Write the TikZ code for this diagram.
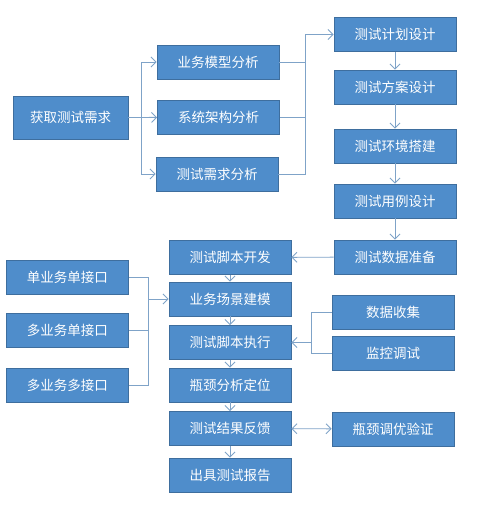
\documentclass[tikz,border=0pt]{standalone}
\usepackage{fontspec}
\setmainfont{Noto Sans CJK SC}
\usetikzlibrary{arrows.meta}
\definecolor{boxfill}{HTML}{4F8DCB}
\definecolor{boxline}{HTML}{3E6E9E}
\definecolor{linkcol}{HTML}{7FA3C8}

\begin{document}
\begin{tikzpicture}[
x=1pt, y=-1pt,
stepbox/.style={rectangle, draw=boxline, fill=boxfill, thick, text=white, inner sep=0pt,
                minimum width=122pt, minimum height=34pt, font=\fontsize{13.5}{15}\selectfont},
link/.style={draw=linkcol, line width=0.9pt, -{Straight Barb[length=5pt,width=10pt]}},
plain/.style={draw=linkcol, line width=0.9pt},
]
\useasboundingbox (0,0) rectangle (501,506);

% demand analysis
\node[stepbox, minimum width=115pt, minimum height=43pt] (req) at (70.5,117.5) {获取测试需求};
\node[stepbox] (bizmodel) at (218,62) {业务模型分析};
\node[stepbox] (sysarch) at (218.5,117) {系统架构分析};
\node[stepbox] (reqana) at (217,174) {测试需求分析};

% preparation column
\node[stepbox] (plan) at (395,34.5) {测试计划设计};
\node[stepbox] (scheme) at (395,87) {测试方案设计};
\node[stepbox] (env) at (395,146) {测试环境搭建};
\node[stepbox] (case) at (395,201) {测试用例设计};
\node[stepbox] (data) at (395,257) {测试数据准备};

% interface types
\node[stepbox] (single) at (67.5,277) {单业务单接口};
\node[stepbox] (multi) at (67.5,330.5) {多业务单接口};
\node[stepbox] (multimulti) at (67.5,385) {多业务多接口};

% execution column
\node[stepbox] (script) at (230,257.5) {测试脚本开发};
\node[stepbox] (scene) at (230,299) {业务场景建模};
\node[stepbox] (run) at (230,342.5) {测试脚本执行};
\node[stepbox] (locate) at (230,385) {瓶颈分析定位};
\node[stepbox] (feedback) at (230,428.5) {测试结果反馈};
\node[stepbox] (report) at (230,475) {出具测试报告};

% monitoring and tuning
\node[stepbox] (collect) at (393,312) {数据收集};
\node[stepbox] (monitor) at (393,353) {监控调试};
\node[stepbox] (tune) at (393,429) {瓶颈调优验证};

\coordinate (fork1) at (141,117.5);
\coordinate (fork2) at (305,117);
\coordinate (fork3) at (148,299);
\coordinate (fork4) at (311,342.5);

\draw[plain] (req) -- (fork1);
\draw[link] (fork1) |- (bizmodel);
\draw[link] (fork1) -- (sysarch);
\draw[link] (fork1) |- (reqana);

\draw[plain] (bizmodel) -| (fork2);
\draw[plain] (sysarch) -- (fork2);
\draw[plain] (reqana) -| (fork2);
\draw[link] (fork2) |- (plan);

\draw[link] (plan) -- (scheme);
\draw[link] (scheme) -- (env);
\draw[link] (env) -- (case);
\draw[link] (case) -- (data);
\draw[link] (data) -- (script);

\draw[plain] (single) -| (fork3);
\draw[plain] (multi) -| (fork3);
\draw[plain] (multimulti) -| (fork3);
\draw[link] (fork3) -- (scene);

\draw[link] (script) -- (scene);
\draw[link] (scene) -- (run);
\draw[link] (run) -- (locate);
\draw[link] (locate) -- (feedback);
\draw[link] (feedback) -- (report);

\draw[plain] (collect) -| (fork4);
\draw[plain] (monitor) -| (fork4);
\draw[link] (fork4) -- (run);

\draw[link, {Straight Barb[length=5pt,width=10pt]}-{Straight Barb[length=5pt,width=10pt]}] (feedback) -- (tune);
\end{tikzpicture}
\end{document}
